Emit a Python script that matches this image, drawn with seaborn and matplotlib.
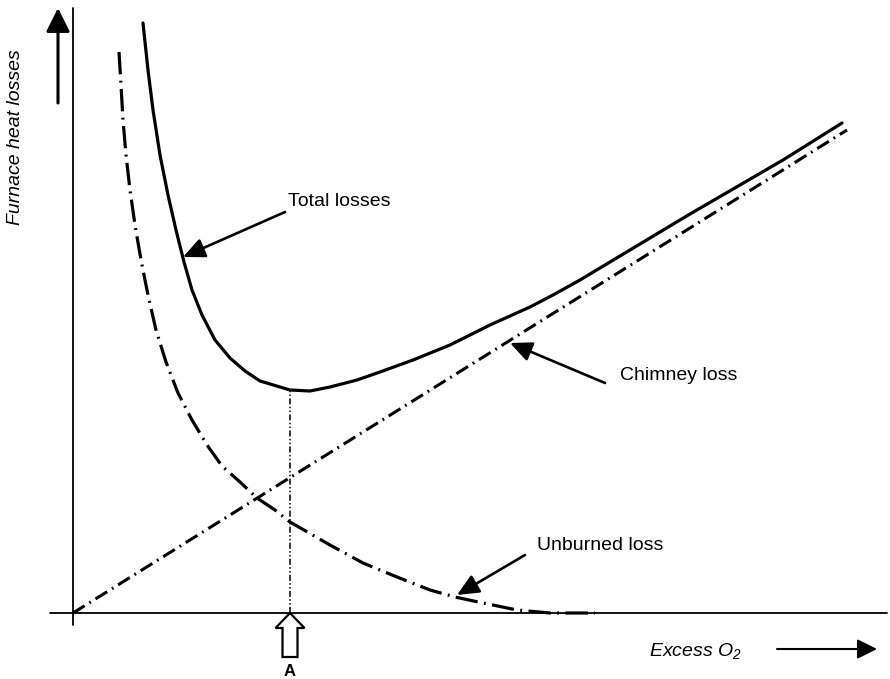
import matplotlib
matplotlib.use("Agg")
import matplotlib.pyplot as plt
import matplotlib.patches as mpatches
import seaborn as sns

# ---- data (arbitrary units; origin at axes crossing) ----
total_x = [70, 75, 80, 87, 95, 103, 111, 119, 129, 142, 157, 172, 187, 217, 237, 257,
           284, 307, 340, 377, 417, 457, 480, 507, 527, 582, 617, 667, 710, 734, 769]
total_y = [590, 543, 503, 458, 418, 383, 351, 323, 298, 273, 255, 242, 232, 223, 222, 226,
           233, 241, 253, 268, 288, 306, 318, 333, 345, 378, 399, 428, 453, 468, 490]

unburned_x = [46, 48, 50, 53, 57, 62, 68, 75, 83, 93, 105, 119, 134, 149, 167, 184,
              202, 217, 257, 290, 324, 357, 382, 410, 444, 477, 522]
unburned_y = [561, 528, 493, 458, 423, 388, 353, 318, 283, 251, 220, 193, 168, 147,
              131, 115, 103, 91, 68, 50, 36, 23, 16, 10, 3, 0, 0]

chimney_x = [0, 774]
chimney_y = [0, 483]

optimum_x = [217, 217]
optimum_y = [0, 223]

labels = ["Total losses", "Chimney loss", "Unburned loss"]
x_label = "Excess O$_2$"
y_label = "Furnace heat losses"
point_label = "A"

# ---- style ----
sns.set_theme(style="white")
plt.rcParams["font.family"] = ["Liberation Sans", "DejaVu Sans"]
plt.rcParams["mathtext.fontset"] = "custom"
plt.rcParams["mathtext.rm"] = "Liberation Sans:italic"
plt.rcParams["mathtext.it"] = "Liberation Sans:italic"
plt.rcParams["text.color"] = "black"

fig = plt.figure(figsize=(8.9, 6.79), dpi=100)
ax = fig.add_axes([0, 0, 1, 1])
ax.set_xlim(-73, 817)
ax.set_ylim(-66, 613)
ax.axis("off")

# axes lines
ax.plot([0, 0], [-12, 605], color="black", lw=1.3)
ax.plot([-23, 814], [0, 0], color="black", lw=1.3)

# curves
sns.lineplot(x=total_x, y=total_y, ax=ax, color="black", lw=2.3, sort=False,
             estimator=None)
sns.lineplot(x=chimney_x, y=chimney_y, ax=ax, color="black", lw=2.2,
             linestyle=(0, (4.5, 1.8, 0.6, 1.8)), sort=False, estimator=None)
sns.lineplot(x=unburned_x, y=unburned_y, ax=ax, color="black", lw=2.3,
             linestyle=(0, (7, 2, 0.6, 2)), sort=False, estimator=None)
sns.lineplot(x=optimum_x, y=optimum_y, ax=ax, color="black", lw=1.1,
             linestyle=(0, (4, 1.5, 1, 1.5, 1, 1.5)), sort=False, estimator=None)

# annotations
arrow_kw = dict(arrowstyle="-|>,head_length=1.1,head_width=0.5", color="black",
                lw=1.9, shrinkA=0, shrinkB=0)
fs = 14
ax.annotate("", xy=(110, 356), xytext=(212, 401), arrowprops=arrow_kw)
ax.text(215, 411, labels[0], fontsize=fs, ha="left", va="center", color="black")
ax.annotate("", xy=(437, 270), xytext=(532, 230), arrowprops=arrow_kw)
ax.text(547, 237, labels[1], fontsize=fs, ha="left", va="center", color="black")
ax.annotate("", xy=(384, 18), xytext=(452, 58), arrowprops=arrow_kw)
ax.text(464, 68, labels[2], fontsize=fs, ha="left", va="center", color="black")

# axis direction arrows
ax.annotate("", xy=(-15, 605), xytext=(-15, 510),
            arrowprops=dict(arrowstyle="-|>,head_length=1.2,head_width=0.6",
                            color="black", lw=2.2, shrinkA=0, shrinkB=0))
ax.text(-57, 476, y_label, fontsize=fs, rotation=90, ha="center", va="center",
        style="italic", color="black")
ax.annotate("", xy=(804, -36), xytext=(704, -36),
            arrowprops=dict(arrowstyle="-|>,head_length=1.0,head_width=0.5",
                            color="black", lw=1.5, shrinkA=0, shrinkB=0))
ax.text(622, -38, x_label, fontsize=fs, ha="center", va="center", style="italic",
        color="black")

# hollow arrow marking the optimum
ax.add_patch(mpatches.FancyArrow(217, -44, 0, 44, width=15, head_width=29,
                                 head_length=15, length_includes_head=True,
                                 fc="white", ec="black", lw=1.6, zorder=5))
ax.text(217, -58, point_label, fontsize=12, ha="center", va="center",
        fontweight="bold", color="black")

fig.savefig("out.png", dpi=100)
